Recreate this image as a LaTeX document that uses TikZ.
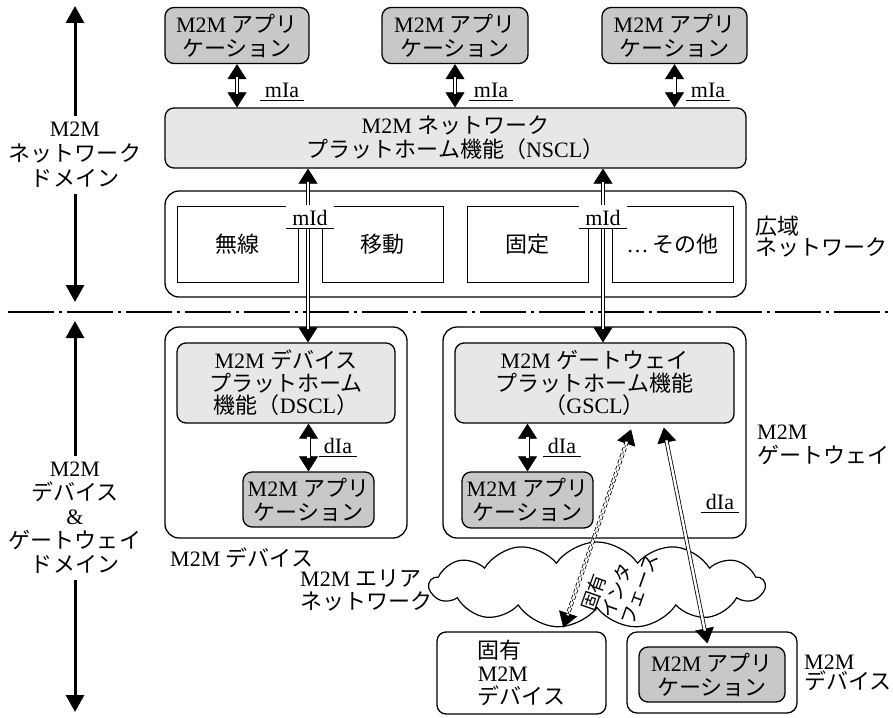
\documentclass[tikz,border=0pt]{standalone}
\usepackage{fontspec}
\setmainfont{Liberation Serif}
\newfontfamily\jp{Noto Sans CJK JP}
\newcommand\J[1]{{\jp #1}}
\usetikzlibrary{arrows.meta,shapes.symbols,calc}
\definecolor{appgray}{HTML}{C8C8C8}
\definecolor{sclgray}{HTML}{E6E7E8}
% double-line connector: tips drawn on a thin line, double shaft on top
\newcommand\dblarr[3][]{\draw[tipline] #2 -- #3; \draw[dblshaft,#1] #2 -- #3;}
\begin{document}
\begin{tikzpicture}[x=1pt,y=-1pt,
  every node/.style={font=\fontsize{22}{24}\selectfont, inner sep=0pt},
  box/.style={draw, line width=1.3pt, rounded corners=9pt, align=center},
  appbox/.style={box, fill=appgray},
  sclbox/.style={box, fill=sclgray},
  outerbox/.style={draw, line width=1.3pt, rounded corners=14pt},
  netbox/.style={draw, line width=1pt, minimum width=121pt, minimum height=76pt},
  tipline/.style={line width=0.6pt, >={Triangle[width=19pt,length=15pt]}, <->},
  dblshaft/.style={double, double distance=2.4pt, line width=0.8pt, shorten <=13pt, shorten >=13pt},
  dashshaft/.style={dash pattern=on 4pt off 2.5pt},
  domarrow/.style={line width=3pt, >={Triangle[width=18pt,length=17pt]}, <->},
  dashdot/.style={line width=2pt, dash pattern=on 46pt off 5pt on 3pt off 5pt},
  lbl/.style={text height=14pt, text depth=0pt, inner xsep=5pt, inner ysep=3pt},
  midlbl/.style={lbl, text height=17pt, fill=white, inner xsep=6pt},
  ul/.style={line width=0.8pt},
  side/.style={align=left}
]
\useasboundingbox (0,0) rectangle (893,717);

% ---------- network domain ----------
\node[appbox, minimum width=144pt, minimum height=56pt] (app1) at (237,35.5) {M2M \J{アプリ}\\\J{ケーション}};
\node[appbox, minimum width=146pt, minimum height=56pt] (app2) at (455,35.5) {M2M \J{アプリ}\\\J{ケーション}};
\node[appbox, minimum width=145pt, minimum height=56pt] (app3) at (674.5,35.5) {M2M \J{アプリ}\\\J{ケーション}};
\node[sclbox, minimum width=581pt, minimum height=60pt] (nscl) at (455.5,138) {M2M \J{ネットワーク}\\\J{プラットホーム機能（}NSCL\J{）}};

\node[outerbox, minimum width=581pt, minimum height=106pt] (wan) at (455.5,244) {};
\node[netbox] (wl) at (237.5,244) {\J{無線}};
\node[netbox] (mob) at (382.5,244) {\J{移動}};
\node[netbox] (fix) at (527.5,244) {\J{固定}};
\node[netbox] (oth) at (672.5,244) {…\,\J{その他}};
\node[side, anchor=west] (wanl) at (755,237) {\J{広域}\\[-3pt]\J{ネットワーク}};

% ---------- device & gateway domain ----------
\node[outerbox, minimum width=242pt, minimum height=211pt] (dev) at (286,432.5) {};
\node[sclbox, minimum width=218pt, minimum height=80pt] (dscl) at (286,383) {M2M \J{デバイス}\\[-1.5pt]\J{プラットホーム}\\[-1.5pt]\J{機能（}DSCL\J{）}};
\node[appbox, minimum width=131pt, minimum height=55pt] (devapp) at (308.5,499.5) {M2M \J{アプリ}\\\J{ケーション}};
\node[anchor=west] (devl) at (170,558) {M2M \J{デバイス}};

\node[outerbox, minimum width=303pt, minimum height=211pt] (gw) at (594.5,432.5) {};
\node[sclbox, minimum width=279pt, minimum height=80pt] (gscl) at (594.5,383) {M2M \J{ゲートウェイ}\\[-1.5pt]\J{プラットホーム機能}\\[-1.5pt]\J{（}GSCL\J{）}};
\node[appbox, minimum width=131pt, minimum height=56pt] (gwapp) at (527.5,500) {M2M \J{アプリ}\\\J{ケーション}};
\node[side, anchor=west] (gwl) at (757,445) {M2M\\\J{ゲートウェイ}};

\node[cloud, draw, fill=white, line width=1.2pt, cloud puffs=13, cloud puff arc=110, aspect=4, minimum width=335pt, minimum height=86pt] (cloud) at (597,585) {};
\node[rotate=70.6, align=left, font=\jp\fontsize{19}{21}\selectfont] (pif) at (619,582) {固有\\インタ\\フェース};
\node[side, anchor=west] (areal) at (300,590) {M2M \J{エリア}\\[-1pt]\J{ネットワーク}};

\node[box, align=left, minimum width=169pt, minimum height=82pt] (propdev) at (521.5,673) {\J{固有}\\[-1pt]M2M\\[-1pt]\J{デバイス}};
\node[outerbox, rounded corners=10pt, minimum width=170pt, minimum height=81pt] (m2mdev) at (712,672.5) {};
\node[appbox, minimum width=146pt, minimum height=55pt] (m2mapp) at (712,674.5) {M2M \J{アプリ}\\\J{ケーション}};
\node[side, anchor=west] (m2ml) at (804,673) {M2M\\[-4pt]\J{デバイス}};

% ---------- separator ----------
\coordinate (sepl) at (8,312);
\coordinate (sepr) at (893,312);
\draw[dashdot] (sepl) -- (sepr);

% ---------- connectors ----------
\dblarr{(app1.south)}{(app1.south |- nscl.north)}
\dblarr{(app2.south)}{(app2.south |- nscl.north)}
\dblarr{(app3.south)}{(app3.south |- nscl.north)}

\coordinate (x1) at (308,0);
\coordinate (x2) at (603,0);
\dblarr{(nscl.south -| x1)}{(dscl.north -| x1)}
\dblarr{(nscl.south -| x2)}{(gscl.north -| x2)}

\dblarr{(dscl.south -| devapp.north)}{(devapp.north)}
\dblarr{(gscl.south -| gwapp.north)}{(gwapp.north)}

\coordinate (da) at (633,0);
\coordinate (db) at (562,0);
\coordinate (sa) at (663,0);
\coordinate (sb) at (708,0);
\coordinate (dtop) at ($(gscl.south -| da)!6pt!(propdev.north -| db)$);
\coordinate (dbot) at ($(propdev.north -| db)!4pt!(gscl.south -| da)$);
\coordinate (stop) at ($(gscl.south -| sa)!4pt!(m2mapp.north -| sb)$);
\coordinate (sbot) at ($(m2mapp.north -| sb)!3pt!(gscl.south -| sa)$);
\dblarr[dashshaft]{(dtop)}{(dbot)}
\dblarr{(stop)}{(sbot)}

% ---------- domain arrows ----------
\coordinate (lt) at (75,6);
\coordinate (lm1) at (75,302);
\coordinate (lm2) at (75,321);
\coordinate (lb) at (75,712);
\draw[domarrow] (lt) -- (lm1);
\draw[domarrow] (lm2) -- (lb);
\node[fill=white, align=center, inner ysep=6pt] (nwdom) at (75,155) {M2M\\[1pt]\J{ネットワーク}\\[1pt]\J{ドメイン}};
\node[fill=white, align=center, inner ysep=6pt] (dgdom) at (75,518) {M2M\\\J{デバイス}\\\&\\\J{ゲートウェイ}\\\J{ドメイン}};

% ---------- interface labels ----------
\node[lbl] (mia1) at (282,90) {mIa};
\node[lbl] (mia2) at (491,90) {mIa};
\node[lbl] (mia3) at (708,90) {mIa};
\node[midlbl] (mid1) at (310,216.5) {mId};
\node[midlbl] (mid2) at (603,216.5) {mId};
\node[lbl] (dia1) at (338,446) {dIa};
\node[lbl] (dia2) at (562,446) {dIa};
\node[lbl] (dia3) at (720,502) {dIa};
\foreach \n in {mia1,mia2,mia3,mid1,mid2,dia1,dia2,dia3}
  \draw[ul] (\n.south west) -- (\n.south east);
\end{tikzpicture}
\end{document}
